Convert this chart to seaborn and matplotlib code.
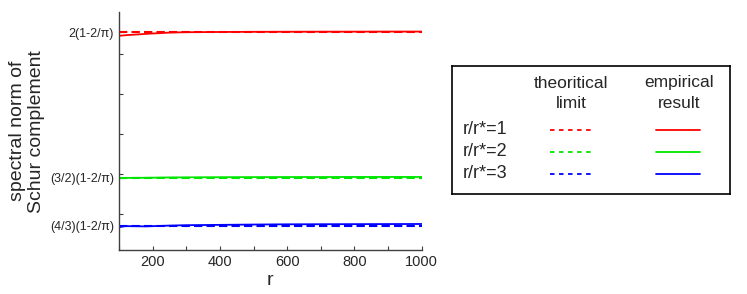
import numpy as np
import pandas as pd
import matplotlib.pyplot as plt
import seaborn as sns

sns.set_style("ticks")
plt.rcParams['font.family'] = ['Liberation Sans', 'DejaVu Sans']

# data
r = [100, 110, 120, 150, 180, 200, 250, 300, 400, 500, 600, 700, 800, 900, 1000]
emp_1 = [0.7222, 0.7226, 0.7230, 0.7238, 0.7246, 0.7251, 0.7262, 0.7267, 0.7270,
         0.7272, 0.7273, 0.7274, 0.7274, 0.7275, 0.7275]
emp_2 = [0.5445, 0.5446, 0.5446, 0.5447, 0.5448, 0.5449, 0.5452, 0.5453, 0.5455,
         0.5456, 0.5457, 0.5457, 0.5458, 0.5458, 0.5458]
emp_3 = [0.4828, 0.4838, 0.4843, 0.4842, 0.4840, 0.4843, 0.4850, 0.4855, 0.4859,
         0.4863, 0.4866, 0.4867, 0.4868, 0.4869, 0.4870]
c = 1 - 2 / np.pi
limits = [2 * c, 1.5 * c, 4 / 3 * c]
ratios = ['r/r*=1', 'r/r*=2', 'r/r*=3']
colors = ['#ff0000', '#00e600', '#0000ff']
ytick_vals = [4 / 3 * c, 0.5, 0.55, 1.5 * c, 0.6, 0.65, 0.7, 2 * c]
ytick_labels = ['(4/3)(1-2/\u03c0)', '', '', '(3/2)(1-2/\u03c0)', '', '', '', '2(1-2/\u03c0)']

fig = plt.figure(figsize=(7.47, 2.94), dpi=100)
ax = fig.add_axes([0.1593, 0.1497, 0.4052, 0.809])

for emp, lim, col in zip([emp_1, emp_2, emp_3], limits, colors):
    sns.lineplot(x=r, y=emp, color=col, lw=1.3, ax=ax)
    sns.lineplot(x=r, y=[lim] * len(r), color=col, lw=1.5, ax=ax)
    ax.lines[-1].set_dashes((4, 2))

ax.set_xlim(100, 1000)
ax.set_ylim(0.4545, 0.7518)
ax.set_xticks(range(100, 1001, 100))
ax.set_xticklabels(['' if v % 200 else str(v) for v in range(100, 1001, 100)], fontsize=10.5)
ax.set_yticks(ytick_vals)
ax.set_yticklabels(ytick_labels, fontsize=9)
ax.tick_params(direction='in', length=3, width=0.8, color='#404040', labelcolor='#262626')
for s in ['top', 'right']:
    ax.spines[s].set_visible(False)
for s in ['left', 'bottom']:
    ax.spines[s].set_color('#404040')
    ax.spines[s].set_linewidth(1.0)
ax.set_xlabel('r', fontsize=14, labelpad=2)
ax.set_ylabel('spectral norm of\nSchur complement', fontsize=14, labelpad=4, linespacing=1.1)

# table-like legend
lg = fig.add_axes([452 / 747, 1 - 194 / 294, 278 / 747, 128 / 294])
lg.set_xlim(452, 730)
lg.set_ylim(194, 66)
lg.set_xticks([])
lg.set_yticks([])
for s in lg.spines.values():
    s.set_color('black')
    s.set_linewidth(1.2)
lg.text(571, 83, 'theoritical', ha='center', va='center', fontsize=12.5)
lg.text(571, 104, 'limit', ha='center', va='center', fontsize=12.5)
lg.text(679, 83, 'empirical', ha='center', va='center', fontsize=12.5)
lg.text(679, 104, 'result', ha='center', va='center', fontsize=12.5)
for i, (lab, col) in enumerate(zip(ratios, colors)):
    yy = 130 + i * 22
    lg.text(463, yy, lab, ha='left', va='center', fontsize=13)
    lg.plot([550, 592], [yy, yy], color=col, lw=1.3, dashes=(2.5, 2.5))
    lg.plot([656, 700], [yy, yy], color=col, lw=1.3)

fig.savefig('out.png', dpi=100)
